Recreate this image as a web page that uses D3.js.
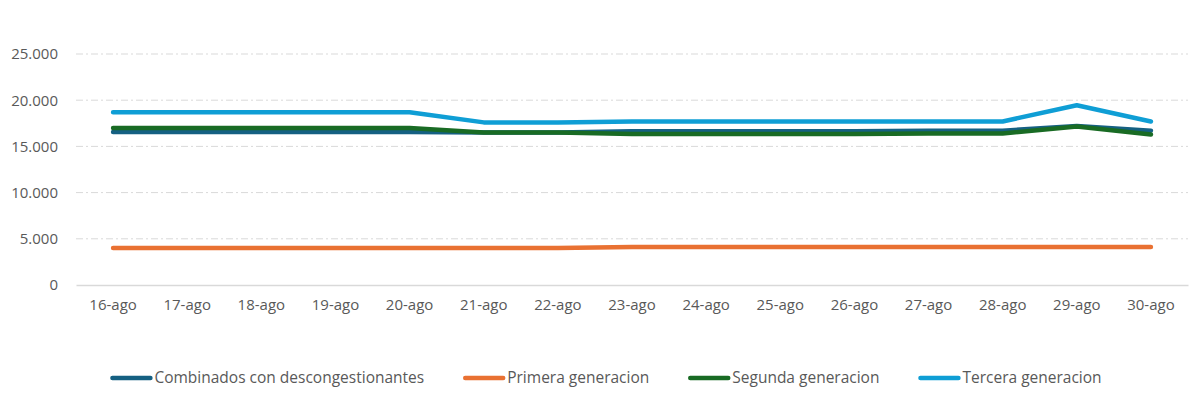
<!DOCTYPE html>
<html>
<head>
<meta charset="utf-8">
<script src="https://cdn.jsdelivr.net/npm/d3@7"></script>
<style>
  html, body { margin: 0; padding: 0; background: #ffffff; }
  svg { display: block; }
</style>
</head>
<body>
<svg id="chart" width="1204" height="399"></svg>
<script>
const categories = ["16-ago", "17-ago", "18-ago", "19-ago", "20-ago", "21-ago", "22-ago", "23-ago",
  "24-ago", "25-ago", "26-ago", "27-ago", "28-ago", "29-ago", "30-ago"];

const combinados = [16550, 16550, 16550, 16550, 16550, 16500, 16500, 16650, 16650, 16650, 16650, 16700, 16700, 17200, 16700];
const primera = [4000, 4000, 4000, 4000, 4000, 4000, 4000, 4100, 4100, 4100, 4100, 4100, 4100, 4100, 4100];
const segunda = [17000, 17000, 17000, 17000, 17000, 16500, 16500, 16350, 16350, 16350, 16350, 16400, 16400, 17150, 16300];
const tercera = [18700, 18700, 18700, 18700, 18700, 17600, 17600, 17700, 17700, 17700, 17700, 17700, 17700, 19450, 17700];

const seriesNames = ["Combinados con descongestionantes", "Primera generacion", "Segunda generacion", "Tercera generacion"];
const seriesColors = ["#156082", "#e97132", "#196b24", "#0f9ed5"];
const yTicks = [0, 5000, 10000, 15000, 20000, 25000];

const series = [combinados, primera, segunda, tercera].map((values, i) => ({
  name: seriesNames[i], color: seriesColors[i], values
}));

const svg = d3.select("#chart");
const width = 1204, height = 399;
const margin = { top: 54, right: 16, bottom: 114, left: 76 };
const innerW = width - margin.left - margin.right;
const innerH = height - margin.top - margin.bottom;
const font = "'Open Sans', 'Liberation Sans', sans-serif";

const locale = d3.formatLocale({ decimal: ",", thousands: ".", grouping: [3], currency: ["", "€"] });
const fmt = locale.format(",.0f");

const x = d3.scaleBand().domain(categories).range([0, innerW]).paddingInner(0).paddingOuter(0);
const y = d3.scaleLinear().domain([0, 25000]).range([innerH, 0]);

const root = svg.append("g").attr("transform", `translate(${margin.left},${margin.top})`);

// gridlines (dash-dot) except the zero line
const grid = root.append("g").attr("class", "grid");
grid.selectAll("line")
  .data(yTicks.filter((t) => t !== 0))
  .join("line")
  .attr("x1", 0).attr("x2", innerW)
  .attr("y1", (d) => y(d)).attr("y2", (d) => y(d))
  .attr("stroke", "#d9d9d9")
  .attr("stroke-width", 1)
  .attr("stroke-dasharray", "7,3,2,3");

// y axis labels
const gy = root.append("g").call(d3.axisLeft(y).tickValues(yTicks).tickFormat(fmt).tickSize(0).tickPadding(18));
gy.select(".domain").remove();
gy.selectAll("text").attr("fill", "#595959").style("font-size", "15px").style("font-family", font);

// x axis
const gx = root.append("g").attr("transform", `translate(0,${innerH})`)
  .call(d3.axisBottom(x).tickSize(0).tickPadding(14));
gx.select(".domain").attr("stroke", "#d9d9d9").attr("stroke-width", 1.5);
gx.selectAll("text").attr("fill", "#595959").style("font-size", "15px").style("font-family", font);

// lines
const line = d3.line()
  .x((d, i) => x(categories[i]) + x.bandwidth() / 2)
  .y((d) => y(d));

root.append("g").attr("class", "lines")
  .selectAll("path")
  .data(series)
  .join("path")
  .attr("d", (d) => line(d.values))
  .attr("fill", "none")
  .attr("stroke", (d) => d.color)
  .attr("stroke-width", 4.5)
  .attr("stroke-linejoin", "round")
  .attr("stroke-linecap", "round");

// legend
const legend = svg.append("g").attr("class", "legend");
const swatchW = 42, textGap = 2, itemGap = 39, legendY = 378;
const items = legend.selectAll("g.item").data(series).join("g").attr("class", "item");
items.append("line")
  .attr("x1", 2).attr("x2", swatchW - 2)
  .attr("y1", 0).attr("y2", 0)
  .attr("stroke", (d) => d.color)
  .attr("stroke-width", 4.5)
  .attr("stroke-linecap", "round");
items.append("text")
  .attr("x", swatchW + textGap)
  .attr("dy", "0.35em")
  .attr("fill", "#595959")
  .style("font-size", "15.5px")
  .style("font-family", font)
  .text((d) => d.name);

let widths = [];
items.each(function () {
  widths.push(swatchW + textGap + d3.select(this).select("text").node().getComputedTextLength());
});
const total = d3.sum(widths) + itemGap * (widths.length - 1);
let cx = (width - total) / 2 + 4;
items.attr("transform", (d, i) => {
  const tx = cx;
  cx += widths[i] + itemGap;
  return `translate(${tx},${legendY})`;
});
</script>
</body>
</html>
